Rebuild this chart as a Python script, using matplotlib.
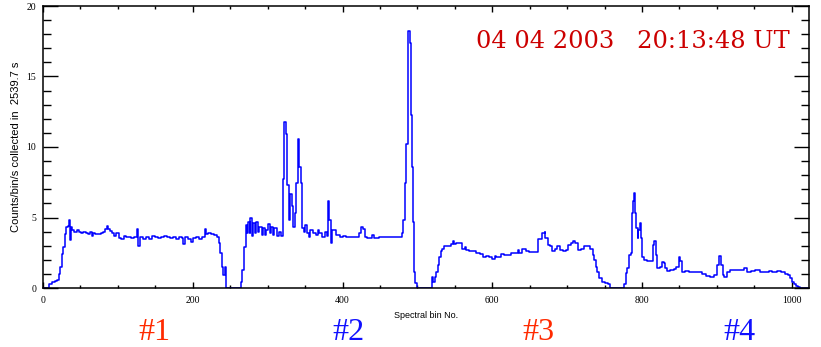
import numpy as np
import matplotlib
matplotlib.use("Agg")
import matplotlib.pyplot as plt
from matplotlib.ticker import MultipleLocator

# spectrum: (bin, counts) pairs, drawn as steps
bins_1 = [0, 8, 12, 16, 19, 21, 23, 25, 27, 29, 31, 33, 35, 36, 37, 39, 42, 45, 48, 51,
          54, 57, 60, 63, 65, 67, 70, 74, 77, 80, 83, 85, 87, 89, 92, 95, 98, 101, 104, 108,
          111, 114, 118, 122, 125, 127, 129, 133, 137, 141, 145, 149, 153, 157, 161, 165, 169, 173, 177, 181,
          185, 187, 189, 193, 197, 200, 204, 208, 212, 216, 218, 221, 225, 229, 233, 235, 237, 239, 241, 243,
          245]
counts_1 = [0, 0.25, 0.4, 0.5, 0.6, 1.0, 1.5, 2.4, 2.9, 3.8, 4.3, 4.4, 4.8, 3.4, 4.3, 4.1, 4.0, 4.1, 4.0, 3.9,
            4.0, 3.9, 3.8, 4.0, 3.7, 3.9, 3.85, 3.8, 3.9, 4.0, 4.2, 4.4, 4.2, 4.05, 3.9, 3.7, 3.9, 3.55, 3.5, 3.7,
            3.6, 3.65, 3.55, 3.6, 4.15, 2.95, 3.6, 3.5, 3.65, 3.5, 3.7, 3.6, 3.55, 3.65, 3.7, 3.6, 3.55, 3.6, 3.5, 3.6,
            3.55, 3.1, 3.6, 3.45, 3.25, 3.55, 3.6, 3.5, 3.6, 4.15, 3.8, 3.9, 3.85, 3.75, 3.6, 3.2, 2.5, 1.5, 0.95, 1.5,
            0]

bins_2 = [264, 266, 268, 269, 271, 272, 274, 276, 277, 279, 280, 283, 285, 287, 289, 292, 294, 296, 298, 300,
          303, 305, 307, 309, 312, 315, 318, 320, 321, 322, 324, 326, 328, 330, 332, 334, 336, 338, 340, 342,
          344, 346, 348, 350, 352, 355, 357, 360, 365, 367, 369, 373, 376, 379, 380, 382, 384, 386, 391, 396,
          400, 405, 409, 414, 418, 422, 425, 428, 430, 433, 438, 440, 442, 449, 454, 458, 463, 467, 472, 476,
          480, 481, 483, 485, 487, 488, 490, 491, 493, 494, 495, 497, 499]
counts_2 = [0.45, 1.3, 2.4, 2.9, 4.5, 3.9, 4.65, 3.9, 4.95, 3.7, 4.6, 3.9, 4.7, 4.0, 4.35, 3.75, 4.25, 3.75, 4.1, 4.55,
            3.9, 4.35, 3.75, 4.25, 3.7, 4.0, 3.7, 4.65, 7.7, 11.8, 10.9, 7.3, 4.85, 6.7, 5.8, 4.35, 5.3, 7.45, 10.6, 8.6,
            7.45, 4.25, 4.0, 4.5, 3.9, 3.65, 4.1, 3.9, 3.75, 4.1, 3.9, 3.65, 4.0, 3.7, 6.15, 4.85, 3.2, 4.1, 3.75, 3.6,
            3.7, 3.6, 3.65, 3.6, 3.65, 3.9, 4.35, 4.2, 3.65, 3.55, 3.55, 3.75, 3.55, 3.6, 3.6, 3.65, 3.6, 3.65, 3.6, 3.65,
            3.9, 4.85, 7.45, 10.2, 15.4, 18.2, 17.4, 12.3, 8.6, 4.7, 1.15, 0.33, 0]

bins_3 = [519, 521, 523, 525, 527, 529, 531, 533, 536, 540, 545, 547, 549, 552, 556, 560, 563, 565, 569, 574,
          578, 583, 587, 592, 596, 600, 603, 605, 609, 611, 616, 620, 625, 629, 634, 636, 640, 645, 649, 654,
          658, 661, 664, 666, 670, 671, 674, 677, 680, 684, 687, 690, 694, 698, 701, 705, 708, 711, 715, 718,
          723, 727, 729, 731, 734, 736, 738, 740, 742, 747, 751, 755, 757]
counts_3 = [0.8, 0.45, 0.8, 1.15, 1.65, 2.2, 2.6, 2.8, 2.95, 2.95, 3.1, 3.35, 3.15, 3.2, 3.2, 2.8, 2.9, 2.7, 2.6, 2.65,
            2.45, 2.4, 2.2, 2.25, 2.2, 2.05, 2.25, 2.2, 2.2, 2.4, 2.35, 2.35, 2.45, 2.5, 2.7, 2.5, 2.75, 2.65, 2.55, 2.55,
            2.55, 3.45, 3.5, 3.9, 3.95, 3.55, 3.05, 2.95, 2.65, 2.75, 3.0, 2.7, 2.65, 2.7, 3.05, 3.2, 3.3, 3.2, 2.7, 2.8,
            2.95, 3.0, 2.95, 2.75, 2.35, 2.0, 1.5, 1.15, 0.7, 0.45, 0.33, 0.3, 0]

bins_4 = [776, 778, 780, 782, 785, 786, 788, 789, 790, 792, 794, 795, 797, 799, 800, 803, 807, 811, 814, 816,
          818, 820, 824, 827, 829, 831, 834, 838, 843, 846, 849, 851, 853, 858, 863, 867, 872, 876, 880, 885,
          891, 896, 900, 903, 906, 908, 910, 914, 918, 925, 931, 936, 940, 945, 951, 954, 958, 965, 969, 974,
          980, 985, 991, 995, 998, 1000, 1003, 1005, 1008, 1011, 1023]
counts_4 = [0.3, 1.05, 1.45, 2.35, 2.5, 5.3, 6.15, 6.75, 5.3, 4.25, 3.55, 4.1, 4.6, 3.55, 2.2, 2.0, 1.9, 1.95, 3.05, 3.3,
            2.35, 1.45, 1.5, 1.85, 1.75, 1.4, 1.2, 1.3, 1.35, 1.5, 2.2, 1.9, 1.15, 1.2, 1.15, 1.15, 1.1, 1.15, 1.0, 0.85,
            0.8, 0.9, 1.65, 2.3, 1.65, 0.9, 0.75, 1.15, 1.25, 1.3, 1.3, 1.4, 1.15, 1.2, 1.25, 1.3, 1.1, 1.15, 1.2, 1.15,
            1.2, 1.1, 1.0, 0.9, 0.7, 0.45, 0.3, 0.15, 0.1, 0, 0]

date_text = "04 04 2003   20:13:48 UT"
region_labels = ["#1", "#2", "#3", "#4"]
region_centers = [154, 348, 538, 739]  # pixel centres under the axis
region_colors = ["#ff2a00", "#1010ff", "#ff2a00", "#1010ff"]

bins = np.array(bins_1 + bins_2 + bins_3 + bins_4)
counts = np.array(counts_1 + counts_2 + counts_3 + counts_4)

W, H = 821, 347
fig = plt.figure(figsize=(W / 100, H / 100), dpi=100)
ax = fig.add_axes([43 / W, 1 - 288 / H, (809 - 43) / W, (288 - 6) / H])

ax.plot(bins, counts, drawstyle="steps-post", color="#0000ff", lw=1.1)
ax.set_xlim(0, 1023)
ax.set_ylim(0, 20)

ax.xaxis.set_major_locator(MultipleLocator(200))
ax.xaxis.set_minor_locator(MultipleLocator(50))
ax.yaxis.set_major_locator(MultipleLocator(5))
ax.yaxis.set_minor_locator(MultipleLocator(1))
ax.tick_params(which="both", direction="in", top=True, right=True, width=1.0, color="black")
ax.tick_params(axis="x", which="major", length=4, pad=6)
ax.tick_params(axis="x", which="minor", length=2)
ax.tick_params(axis="y", which="major", length=11, pad=5)
ax.tick_params(axis="y", which="minor", length=5.5)
for lab in ax.get_xticklabels() + ax.get_yticklabels():
    lab.set_fontfamily("Liberation Serif")
    lab.set_fontsize(7)
for s in ax.spines.values():
    s.set_linewidth(1.1)

ax.set_xlabel("Spectral bin No.", fontsize=6.5, family="Liberation Sans", labelpad=4)
ax.set_ylabel("Counts/bin/s collected in  2539.7 s", fontsize=8, family="Liberation Sans", labelpad=4)

fig.text(790 / W, 1 - 48 / H, date_text, ha="right", va="baseline",
         fontsize=17.4, family="DejaVu Serif", color="#cc0000")

for lab, cx, col in zip(region_labels, region_centers, region_colors):
    fig.text(cx / W, 1 - 340 / H, lab, ha="center", va="baseline",
             fontsize=23, family="Liberation Serif", color=col)

fig.savefig("out.png", dpi=100, facecolor="white")
